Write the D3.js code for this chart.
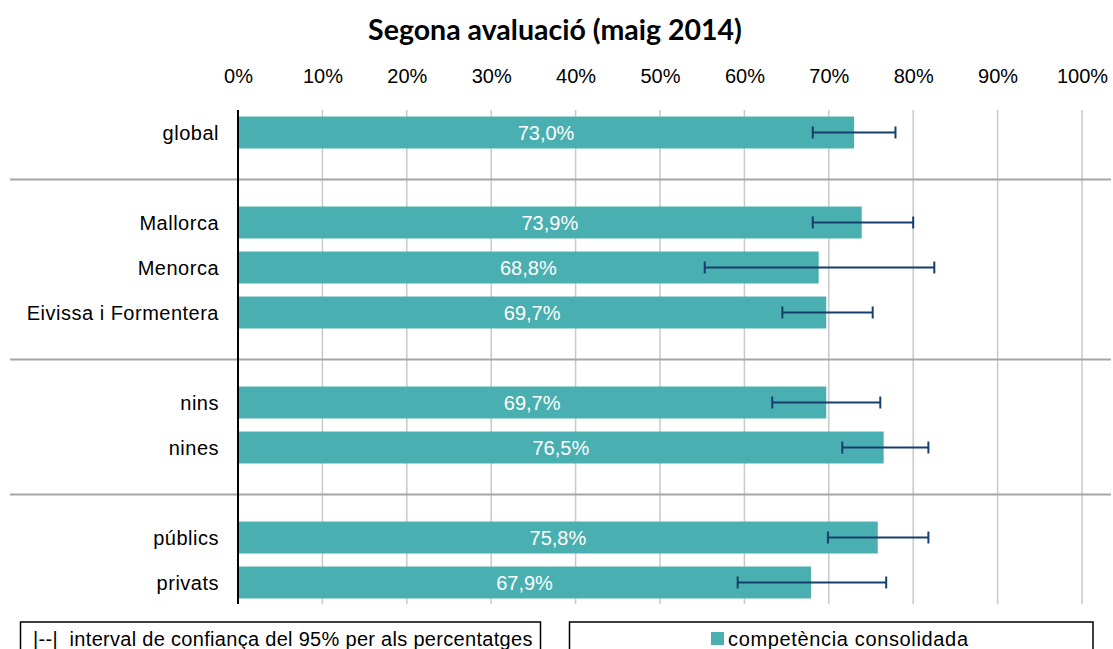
<!DOCTYPE html>
<html>
<head>
<meta charset="utf-8">
<script src="https://cdn.jsdelivr.net/npm/d3@7"></script>
<style>
  html, body { margin: 0; padding: 0; background: #fff; }
  svg { display: block; }
</style>
</head>
<body>
<svg id="chart" width="1113" height="649"></svg>
<script>
// ---- data ----
const title = "Segona avaluació (maig 2014)";
const categories = ["global", "Mallorca", "Menorca", "Eivissa i Formentera", "nins", "nines", "públics", "privats"];
const values = [73.0, 73.9, 68.8, 69.7, 69.7, 76.5, 75.8, 67.9];
const ciLow  = [68.1, 68.1, 55.3, 64.5, 63.3, 71.6, 69.9, 59.2];
const ciHigh = [77.9, 80.0, 82.5, 75.2, 76.1, 81.8, 81.8, 76.8];
const slots = ["global", "gap1", "Mallorca", "Menorca", "Eivissa i Formentera", "gap2", "nins", "nines", "gap3", "públics", "privats"];
const gaps = ["gap1", "gap2", "gap3"];
const xTicks = [0, 10, 20, 30, 40, 50, 60, 70, 80, 90, 100];
const legendCI = "|--|  interval de confiança del 95% per als percentatges";
const legendSeries = "competència consolidada";

const data = categories.map((c, i) => ({ cat: c, v: values[i], lo: ciLow[i], hi: ciHigh[i] }));

// ---- layout ----
const svg = d3.select("#chart");
const plotLeft = 238, plotRight = 1082, plotTop = 110, plotBottom = 605;
const barColor = "#4aafb0";
const errColor = "#173f6d";
const labelFont = "'Liberation Sans', Arial, sans-serif";

const x = d3.scaleLinear().domain([0, 100]).range([plotLeft, plotRight]);
const y = d3.scaleBand().domain(slots).range([plotTop, plotBottom]).paddingInner(0.29).paddingOuter(0.145);

// title
svg.append("text")
  .attr("x", 555).attr("y", 40)
  .attr("text-anchor", "middle")
  .attr("font-family", "Lato, 'Open Sans', sans-serif")
  .attr("font-weight", "bold")
  .attr("font-size", 28.5)
  .attr("fill", "#000")
  .text(title);

// gridlines
svg.append("g").selectAll("line").data(xTicks.slice(1)).join("line")
  .attr("x1", d => x(d)).attr("x2", d => x(d))
  .attr("y1", plotTop).attr("y2", plotBottom - 1)
  .attr("stroke", "#c9c9c9").attr("stroke-width", 1.5);

// top axis tick labels
const xAxis = d3.axisTop(x).tickValues(xTicks).tickFormat(d => d + "%").tickSize(0).tickPadding(0);
const gx = svg.append("g").attr("transform", "translate(0,83)").call(xAxis);
gx.select(".domain").remove();
gx.selectAll("text")
  .attr("font-family", labelFont).attr("font-size", 20).attr("fill", "#000")
  .attr("dy", 0);

// separators
svg.append("g").selectAll("line").data(gaps).join("line")
  .attr("x1", 10).attr("x2", 1111)
  .attr("y1", d => y(d) + y.bandwidth() / 2 + 2)
  .attr("y2", d => y(d) + y.bandwidth() / 2 + 2)
  .attr("stroke", "#a6a6a6").attr("stroke-width", 2);

// bars
svg.append("g").selectAll("rect").data(data).join("rect")
  .attr("x", x(0))
  .attr("y", d => y(d.cat))
  .attr("width", d => x(d.v) - x(0))
  .attr("height", y.bandwidth())
  .attr("fill", barColor);

// bar value labels
const fmt = d => d3.format(".1f")(d).replace(".", ",") + "%";
svg.append("g").selectAll("text").data(data).join("text")
  .attr("x", d => (x(0) + x(d.v)) / 2)
  .attr("y", d => y(d.cat) + y.bandwidth() / 2 + 7)
  .attr("text-anchor", "middle")
  .attr("font-family", labelFont).attr("font-size", 20)
  .attr("fill", "#ffffff")
  .text(d => fmt(d.v));

// category labels
svg.append("g").selectAll("text").data(data).join("text")
  .attr("x", 219)
  .attr("y", d => y(d.cat) + y.bandwidth() / 2 + 7)
  .attr("text-anchor", "end")
  .attr("font-family", labelFont).attr("font-size", 20)
  .attr("letter-spacing", 0.5)
  .attr("fill", "#000")
  .text(d => d.cat);

// vertical axis line
svg.append("line")
  .attr("x1", x(0)).attr("x2", x(0))
  .attr("y1", plotTop).attr("y2", plotBottom - 1)
  .attr("stroke", "#000").attr("stroke-width", 2);

// error bars
const eg = svg.append("g").attr("stroke", errColor).attr("stroke-width", 2);
data.forEach(d => {
  const cy = y(d.cat) + y.bandwidth() / 2;
  eg.append("line").attr("x1", x(d.lo)).attr("x2", x(d.hi)).attr("y1", cy).attr("y2", cy);
  eg.append("line").attr("x1", x(d.lo)).attr("x2", x(d.lo)).attr("y1", cy - 6).attr("y2", cy + 6);
  eg.append("line").attr("x1", x(d.hi)).attr("x2", x(d.hi)).attr("y1", cy - 6).attr("y2", cy + 6);
});

// legend boxes
svg.append("rect").attr("x", 20.5).attr("y", 622).attr("width", 520).attr("height", 40)
  .attr("fill", "#fff").attr("stroke", "#000").attr("stroke-width", 1.5);
svg.append("text").attr("x", 33).attr("y", 646)
  .attr("font-family", labelFont).attr("font-size", 20).attr("fill", "#000")
  .attr("letter-spacing", 0.3)
  .style("white-space", "pre")
  .text(legendCI);

svg.append("rect").attr("x", 569.5).attr("y", 622).attr("width", 523.5).attr("height", 40)
  .attr("fill", "#fff").attr("stroke", "#000").attr("stroke-width", 1.5);
svg.append("rect").attr("x", 711).attr("y", 632).attr("width", 13).attr("height", 13).attr("fill", barColor);
svg.append("text").attr("x", 728).attr("y", 646)
  .attr("font-family", labelFont).attr("font-size", 20).attr("fill", "#000")
  .attr("letter-spacing", 0.65)
  .text(legendSeries);
</script>
</body>
</html>
